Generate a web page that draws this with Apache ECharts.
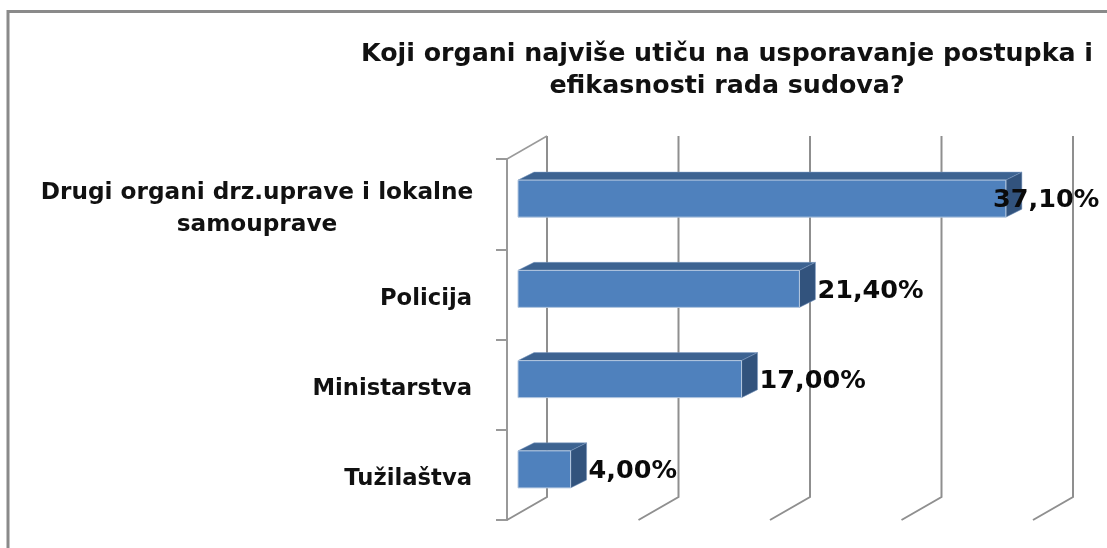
<!DOCTYPE html>
<html>
<head>
<meta charset="utf-8">
<title>Chart</title>
<script src="https://cdn.jsdelivr.net/npm/echarts@6/dist/echarts.min.js"></script>
<style>
  html, body { margin: 0; padding: 0; background: #fff; }
  #main { width: 1107px; height: 548px; }
</style>
</head>
<body>
<div id="main"></div>
<script>
var titleLines = ['Koji organi najviše utiču na usporavanje postupka i', 'efikasnosti rada sudova?'];
var categories = ['Drugi organi drz.uprave i lokalne\nsamouprave', 'Policija', 'Ministarstva', 'Tužilaštva'];
var values = [37.1, 21.4, 17.0, 4.0];
var xTicks = [0, 10, 20, 30, 40];

var fontName = '"DejaVu Sans", Verdana, sans-serif';
var depthX = 16, depthY = 8;   // bar depth
var wallX = 29, wallY = 23;    // back wall shift from the bar plane

var chart = echarts.init(document.getElementById('main'));

// back wall gridlines, floor diagonals and the side wall's top edge
function renderWall(params, api) {
  var p = api.coord([api.value(0), 0]);
  var rect = params.coordSys;
  var x = p[0] + wallX;
  var top = rect.y - wallY;
  var bottom = rect.y + rect.height - wallY;
  var children = [{
    type: 'polyline',
    shape: { points: [[x, top], [x, bottom], [x - 40, bottom + wallY]] },
    style: { fill: null, stroke: '#8f8f8f', lineWidth: 2 }
  }];
  if (api.value(0) === 0) {
    children.push({
      type: 'line',
      shape: { x1: x - 40, y1: rect.y, x2: x, y2: top },
      style: { stroke: '#9a9a9a', lineWidth: 1.5 }
    });
  }
  return { type: 'group', children: children };
}

function renderBar(params, api) {
  var start = api.coord([0, api.value(1)]);
  var end = api.coord([api.value(0), api.value(1)]);
  var band = api.size([0, 1])[1];
  var h = band * 0.41;
  var cy = start[1] - 5.5;
  var x0 = start[0], x1 = end[0], y0 = cy - h / 2, y1 = cy + h / 2;
  var text = api.value(0).toFixed(2).replace('.', ',') + '%';
  var labelW = 108;
  var labelX = Math.min(x1 + 18, 1101 - labelW);
  return {
    type: 'group',
    children: [
      { type: 'polygon',
        shape: { points: [[x0, y0], [x0 + depthX, y0 - depthY], [x1 + depthX, y0 - depthY], [x1, y0]] },
        style: { fill: '#3d6391', stroke: '#7f9dc4', lineWidth: 0.5 } },
      { type: 'polygon',
        shape: { points: [[x1, y0], [x1 + depthX, y0 - depthY], [x1 + depthX, y1 - depthY], [x1, y1]] },
        style: { fill: '#32537d', stroke: '#7f9dc4', lineWidth: 0.5 } },
      { type: 'rect',
        shape: { x: x0, y: y0, width: x1 - x0, height: y1 - y0 },
        style: { fill: '#4f81bd', stroke: '#b5c8e0', lineWidth: 1 } },
      { type: 'text',
        style: {
          x: labelX, y: cy + 2, text: text, fill: '#0a0a0a',
          font: 'bold 25.5px ' + fontName, textAlign: 'left', textVerticalAlign: 'middle'
        } }
    ]
  };
}

var option = {
  animation: false,
  backgroundColor: '#fff',
  title: {
    text: titleLines.join('\n'),
    left: 722,
    top: 33,
    textAlign: 'center',
    textStyle: { fontFamily: fontName, fontSize: 25.3, fontWeight: 'bold', color: '#111', lineHeight: 32 }
  },
  graphic: [{
    type: 'polyline',
    silent: true,
    shape: { points: [[8, 548], [8, 11.5], [1107, 11.5]] },
    style: { fill: null, stroke: '#8a8a8a', lineWidth: 3 }
  }],
  grid: [
    { left: 518, top: 159, width: 526, height: 361 },
    { left: 507, top: 159, width: 526, height: 361 }   // carries the category axis, in front of the bars' plane
  ],
  xAxis: [{
    type: 'value', min: 0, max: 40, interval: 10, gridIndex: 0,
    axisLabel: { show: false }, axisLine: { show: false },
    axisTick: { show: false }, splitLine: { show: false }
  }, {
    type: 'value', min: 0, max: 40, interval: 10, gridIndex: 1,
    axisLabel: { show: false }, axisLine: { show: false },
    axisTick: { show: false }, splitLine: { show: false }
  }],
  yAxis: [{
    type: 'category', inverse: true, data: categories, gridIndex: 0,
    axisLabel: { show: false }, axisLine: { show: false }, axisTick: { show: false }
  }, {
    type: 'category', inverse: true, data: categories, gridIndex: 1,
    axisLine: { show: true, lineStyle: { color: '#999', width: 2 } },
    axisTick: { show: true, length: 11, lineStyle: { color: '#999', width: 2 } },
    axisLabel: {
      margin: 35,
      padding: [9, 0, 0, 0],
      fontFamily: fontName, fontSize: 22.7, fontWeight: 'bold', color: '#111', lineHeight: 32,
      interval: 0,
      formatter: function (v) {
        if (v.indexOf('\n') < 0) return v;
        return v.split('\n').map(function (s) { return '{c|' + s + '}'; }).join('\n');
      },
      rich: { c: { width: 430, align: 'center', fontFamily: fontName, fontSize: 23.2, fontWeight: 'bold', color: '#111', lineHeight: 32 } }
    }
  }],
  series: [
    {
      type: 'custom', silent: true, clip: false, z: 1,
      coordinateSystem: 'cartesian2d', xAxisIndex: 0, yAxisIndex: 0,
      encode: { x: 0 },
      renderItem: renderWall,
      data: xTicks.map(function (t) { return [t]; })
    },
    {
      type: 'custom', silent: true, clip: false, z: 2,
      coordinateSystem: 'cartesian2d', xAxisIndex: 0, yAxisIndex: 0,
      encode: { x: 0, y: 1 },
      renderItem: renderBar,
      data: values.map(function (v, i) { return [v, i]; })
    }
  ]
};
chart.setOption(option);
</script>
</body>
</html>
